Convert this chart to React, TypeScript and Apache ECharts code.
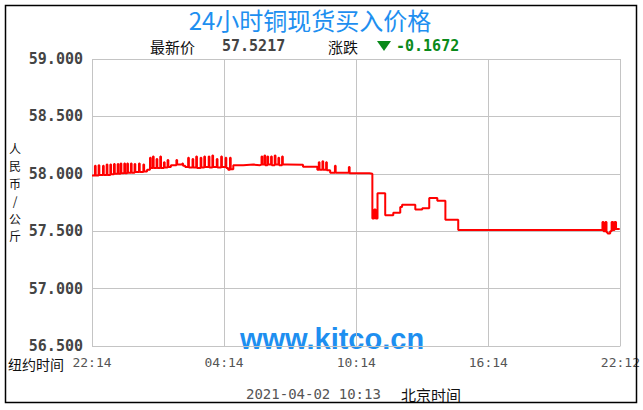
import React, { useEffect, useRef } from "react";
import * as echarts from "echarts";

const titleText = "24小时铜现货买入价格";
const latestLabel = "最新价";
const latestPrice = "57.5217";
const changeLabel = "涨跌";
const changeValue = "-0.1672";
const yAxisName = "人民币/公斤";
const xAxisName = "纽约时间";
const dateText = "2021-04-02 10:13";
const beijingText = "北京时间";
const watermark = "www.kitco.cn";

const xTickLabels = ["22:14", "04:14", "10:14", "16:14", "22:12"];

// minutes since 22:14 (New York time)
const times = [
  0, 8, 10, 18, 20, 30, 32, 40, 42, 50, 52, 60, 62, 70, 72, 78, 80, 88, 90, 96, 98, 106, 108, 116, 118, 128, 130, 140, 142,
  150, 158, 160, 166, 168, 176, 178, 186, 188, 196, 198, 206, 208,
  215, 230, 232, 246, 248,
  254, 262, 264, 274, 276, 284, 286, 296, 298, 306, 308, 318, 320, 328, 330, 340, 342, 352, 354, 364, 366,
  371, 376, 378,
  385, 412, 440,
  458, 462, 464, 470, 472, 478, 480, 488, 490, 498, 500, 508, 510, 518, 520,
  532, 575, 614, 618, 620, 628, 630, 638, 640,
  649, 662, 664, 700, 702, 730, 756,
  764, 769, 773, 778, 799, 821, 840, 845, 881, 900, 919, 941, 963, 998,
  1391, 1394, 1399, 1402, 1405, 1412, 1416, 1420, 1424, 1428, 1438,
];

const prices = [
  57.985, 58.07, 57.985, 58.075, 57.99, 58.07, 57.99, 58.08, 57.99, 58.08, 57.995, 58.085, 58.0, 58.085, 58.0, 58.09, 58.005, 58.09, 58.005, 58.09, 58.01, 58.09, 58.01, 58.085, 58.015, 58.09, 58.015, 58.08, 58.02,
  58.035, 58.14, 58.05, 58.15, 58.05, 58.13, 58.05, 58.15, 58.05, 58.1, 58.055, 58.12, 58.06,
  58.075, 58.12, 58.08, 58.09, 58.07,
  58.06, 58.14, 58.055, 58.13, 58.055, 58.15, 58.05, 58.14, 58.055, 58.15, 58.06, 58.15, 58.055, 58.16, 58.06, 58.13, 58.055, 58.15, 58.06, 58.14, 58.05,
  58.035, 58.14, 58.04,
  58.075, 58.08, 58.075,
  58.08, 58.15, 58.08, 58.16, 58.075, 58.15, 58.08, 58.15, 58.075, 58.16, 58.08, 58.14, 58.075, 58.15, 58.08,
  58.078, 58.062, 58.035, 58.1, 58.035, 58.11, 58.035, 58.1, 58.03,
  58.01, 58.07, 58.01, 58.06, 58.005, 58.005, 58.0,
  57.61, 57.69, 57.61, 57.83, 57.64, 57.66, 57.71, 57.73, 57.69, 57.7, 57.79, 57.765, 57.6, 57.51,
  57.58, 57.5, 57.58, 57.49, 57.48, 57.5, 57.58, 57.51, 57.58, 57.52, 57.5217,
];

const cjk = '"Noto Sans CJK SC", sans-serif';
const mono = '"DejaVu Sans Mono", monospace';

export default function App() {
  const ref = useRef<HTMLDivElement>(null);
  useEffect(() => {
    if (!ref.current) return;
    const chart = echarts.init(ref.current, null, { renderer: "svg" });
    const data = times.map((t, i) => [t, prices[i]]);
    const yNameChars = yAxisName.split("").map((ch, i) => ({
      type: "text",
      x: 15,
      y: 148 + i * 17.5,
      style: {
        text: ch,
        fill: "#111111",
        font: `12px ${cjk}`,
        lineHeight: 15,
        textAlign: "center",
        textVerticalAlign: "middle",
      },
    }));
    chart.setOption({
      animation: false,
      backgroundColor: "#ffffff",
      grid: { left: 92, right: 22, top: 59, bottom: 64, containLabel: false },
      xAxis: {
        type: "value",
        min: 0,
        max: 1440,
        interval: 360,
        axisLine: { show: false },
        axisTick: { show: false },
        splitLine: { show: true, lineStyle: { color: "#c4c4c4", width: 1 } },
        axisLabel: {
          margin: 10,
          showMinLabel: true,
          showMaxLabel: true,
          color: "#555555",
          fontFamily: mono,
          fontSize: 13,
          formatter: (v: number) => xTickLabels[Math.round(v / 360)] ?? "",
        },
      },
      yAxis: {
        type: "value",
        min: 56.5,
        max: 59,
        interval: 0.5,
        axisLine: { show: false },
        axisTick: { show: false },
        splitLine: { show: true, lineStyle: { color: "#c4c4c4", width: 1 } },
        axisLabel: {
          margin: 9,
          color: "#444444",
          fontFamily: mono,
          fontWeight: "bold",
          fontSize: 15,
          lineHeight: 15,
          formatter: (v: number) => v.toFixed(3),
        },
      },
      graphic: [
        {
          type: "rect",
          shape: { x: 5.5, y: 5.5, width: 631, height: 397 },
          style: { fill: "none", stroke: "#000000", lineWidth: 1.5 },
          z: 100,
        },
        {
          type: "text",
          x: 310,
          y: 19,
          style: {
            text: titleText,
            fill: "#1e8ff0",
            font: `24px ${cjk}`,
            textAlign: "center",
            textVerticalAlign: "middle",
          },
        },
        {
          type: "text",
          x: 150,
          y: 46,
          style: { text: latestLabel, fill: "#111111", font: `15px ${cjk}`, textVerticalAlign: "middle" },
        },
        {
          type: "text",
          x: 222,
          y: 46,
          style: { text: latestPrice, fill: "#444444", font: `bold 15px ${mono}`, textVerticalAlign: "middle" },
        },
        {
          type: "text",
          x: 328,
          y: 46,
          style: { text: changeLabel, fill: "#111111", font: `15px ${cjk}`, textVerticalAlign: "middle" },
        },
        {
          type: "polygon",
          shape: { points: [[377, 41], [391, 41], [384, 51]] },
          style: { fill: "#0a8a1a" },
        },
        {
          type: "text",
          x: 396,
          y: 46,
          style: { text: changeValue, fill: "#0a8a1a", font: `bold 15px ${mono}`, textVerticalAlign: "middle" },
        },
        ...yNameChars,
        {
          type: "text",
          x: 8,
          y: 364,
          style: { text: xAxisName, fill: "#111111", font: `14px ${cjk}`, lineHeight: 15, textVerticalAlign: "middle" },
        },
        {
          type: "text",
          x: 246,
          y: 394,
          style: { text: dateText, fill: "#555555", font: `14px ${mono}`, textVerticalAlign: "middle" },
        },
        {
          type: "text",
          x: 401,
          y: 394,
          style: { text: beijingText, fill: "#111111", font: `15px ${cjk}`, textVerticalAlign: "middle" },
        },
        {
          type: "text",
          x: 332,
          y: 339,
          z: 0,
          style: {
            text: watermark,
            fill: "#1e8ff0",
            font: `bold 29px "Liberation Sans", Arial, sans-serif`,
            textAlign: "center",
            textVerticalAlign: "middle",
          },
        },
      ],
      series: [
        {
          type: "line",
          data,
          step: "end",
          showSymbol: false,
          symbol: "none",
          lineStyle: { color: "#ff0000", width: 2 },
          z: 5,
        },
      ],
    });
    return () => chart.dispose();
  }, []);
  return <div ref={ref} style={{ position: "fixed", left: 0, top: 0, width: 643, height: 410 }} />;
}
